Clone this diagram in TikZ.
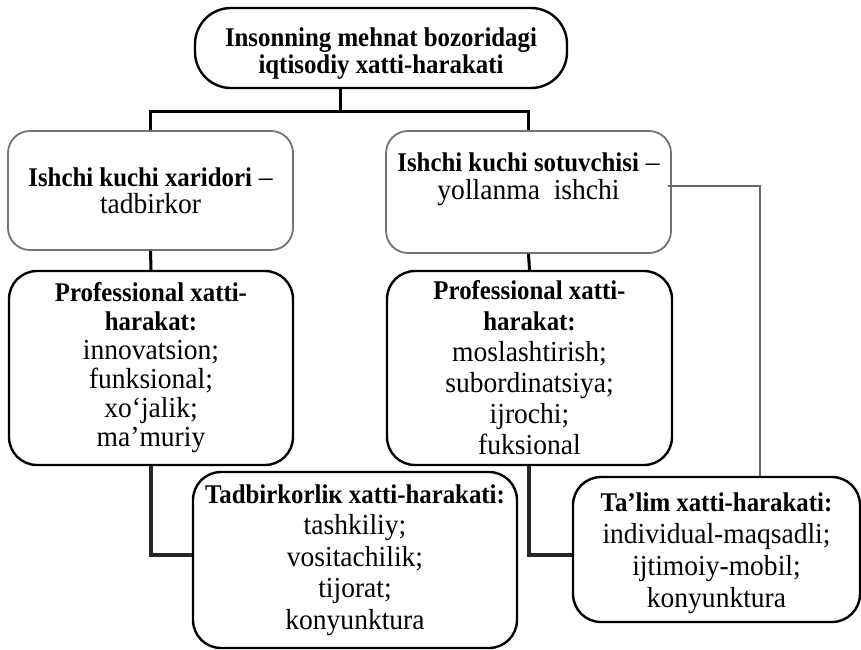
\documentclass[tikz,border=0pt]{standalone}
\usepackage{fontspec}
\setmainfont[FakeStretch=0.95,
  BoldFont={Liberation Serif Bold},
  BoldFeatures={FakeStretch=0.92}]{Liberation Serif}
\newcommand\hd[1]{{\fontsize{27}{30}\selectfont\bfseries #1}}
\begin{document}
\begin{tikzpicture}[x=1pt,y=1pt,
  box/.style={draw=black, line width=2.4pt, fill=white, align=center,
    inner sep=0pt, rounded corners=28pt,
    font=\fontsize{29}{30}\selectfont},
  softbox/.style={box, draw=black!55, line width=1.8pt, rounded corners=22pt},
  tree/.style={draw=black, line width=3pt},
  branch/.style={draw=black!85, line width=4pt},
  thin/.style={draw=black!60, line width=1.6pt}]
  \useasboundingbox (0,0) rectangle (861,-649);

  % boxes
  \node[box, minimum width=372, minimum height=80, rounded corners=36pt,
        font=\fontsize{27}{27}\selectfont\bfseries]
    (root) at (381,-48) {\rule{0pt}{29pt}Insonning mehnat bozoridagi\\iqtisodiy xatti-harakati};
  \node[softbox, minimum width=285, minimum height=119, font=\fontsize{29}{27}\selectfont]
    (buyer) at (150.5,-190.5) {\hd{Ishchi kuchi xaridori} –\\tadbirkor};
  \node[softbox, minimum width=285, minimum height=122,
        font=\fontsize{29}{28}\selectfont]
    (seller) at (528.5,-192) {\hd{Ishchi kuchi sotuvchisi} –\\yollanma\ \ ishchi\rule[-31pt]{0pt}{31pt}};
  \node[box, minimum width=284, minimum height=194, font=\fontsize{29}{29}\selectfont]
    (prof1) at (151,-368) {\hd{Professional xatti-}\\\hd{harakat:}\\innovatsion;\\funksional;\\xo‘jalik;\\ma’muriy};
  \node[box, minimum width=285, minimum height=194, font=\fontsize{29}{31}\selectfont]
    (prof2) at (529.5,-368) {\hd{Professional xatti-}\\\hd{harakat:}\\moslashtirish;\\subordinatsiya;\\ijrochi;\\fuksional};
  \node[box, minimum width=324, minimum height=176, font=\fontsize{29}{31.5}\selectfont]
    (tadb) at (355,-560) {\hd{Tadbirkorliк xatti-harakati:}\\tashkiliy;\\vositachilik;\\tijorat;\\konyunktura};
  \node[box, minimum width=287, minimum height=145, font=\fontsize{29}{32}\selectfont]
    (talim) at (716.5,-549.5) {\rule{0pt}{27pt}\hd{Ta’lim xatti-harakati:}\\individual-maqsadli;\\ijtimoiy-mobil;\\konyunktura};

  % junction points
  \coordinate (jn) at (340,-111);
  \coordinate (k1) at (151,-555);
  \coordinate (k2) at (529,-555);
  \coordinate (c1) at (760,-186);

  % connectors
  \draw[tree] (root.south -| jn) -- (jn);
  \draw[tree] (buyer.north) |- (jn) -| (seller.north);
  \draw[tree] (buyer.south) -- (prof1.north);
  \draw[tree] (seller.south) -- (prof2.north);
  \draw[branch] (prof1.south -| k1) -- (k1) -- (k1 -| tadb.west);
  \draw[branch] (prof2.south -| k2) -- (k2) -- (k2 -| talim.west);
  \draw[thin] ([xshift=-4pt]seller.east |- c1) -- (c1) -- (c1 |- talim.north);
\end{tikzpicture}
\end{document}
